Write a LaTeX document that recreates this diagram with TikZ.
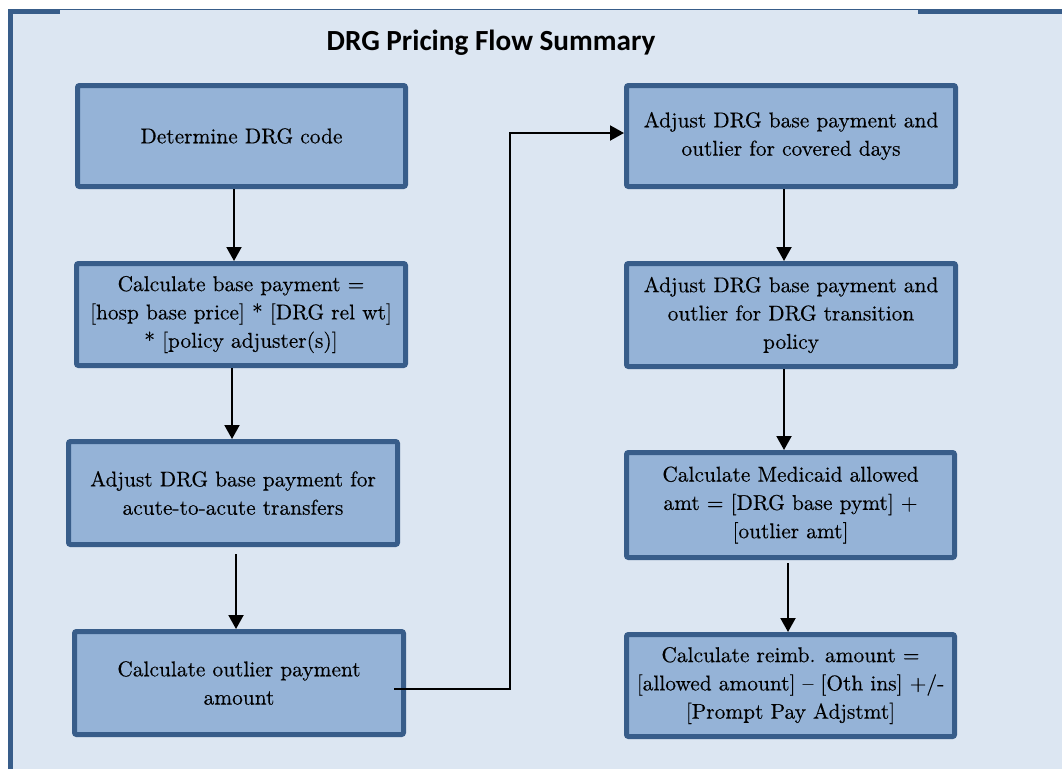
\documentclass[tikz,border=0pt]{standalone}
\usepackage{fontspec}
\newfontfamily\titlefont{Carlito}
\newfontfamily\boxfont{lmroman10-regular.otf}[FakeBold=0.3,Ligatures=TeX]
\usetikzlibrary{arrows.meta}
\definecolor{bgc}{HTML}{DCE6F2}
\definecolor{boxc}{HTML}{95B3D7}
\definecolor{bordc}{HTML}{385D8A}
\tikzset{
  stepbox/.style={draw=bordc, fill=boxc, line width=5pt, rounded corners=2pt,
    align=center, inner sep=0pt, text=black,
    font=\boxfont\fontsize{21.4}{28.3}\selectfont},
  arr/.style={draw=black, line width=2pt, -{Triangle[width=15pt,length=14pt]}},
  frameline/.style={draw=bordc, line width=5pt}
}
\begin{document}
\begin{tikzpicture}[x=1pt,y=-1pt]
\useasboundingbox (0,0) rectangle (1062,769);
\fill[bgc] (8,9) rectangle (1062,769);
\draw[bordc, line width=1pt] (60,9.5) -- (918,9.5);
\draw[frameline] (10,769) -- (10,11.5) -- (60,11.5);
\draw[frameline] (918,11.5) -- (1062,11.5);
\node[font=\titlefont\bfseries\fontsize{29.2}{34}\selectfont] (title) at (491,43) {DRG Pricing Flow Summary};

\node[stepbox, minimum width=328pt, minimum height=101pt] (b1) at (241.5,136) {Determine DRG code};
\node[stepbox, minimum width=329pt, minimum height=102pt] (b2) at (241,314.5) {Calculate base payment =\\ {[hosp base price] * [DRG rel wt]}\\ * [policy adjuster(s)]};
\node[stepbox, minimum width=329pt, minimum height=103pt] (b3) at (233,493) {Adjust DRG base payment for\\ acute-to-acute transfers};
\node[stepbox, minimum width=329pt, minimum height=103pt] (b4) at (239,683) {Calculate outlier payment\\ amount};
\node[stepbox, minimum width=329pt, minimum height=101pt] (b5) at (791,136) {Adjust DRG base payment and\\ outlier for covered days};
\node[stepbox, minimum width=329pt, minimum height=103pt] (b6) at (791,315) {Adjust DRG base payment and\\ outlier for DRG transition\\ policy};
\node[stepbox, minimum width=328pt, minimum height=105pt] (b7) at (790.5,505) {Calculate Medicaid allowed\\ amt = [DRG base pymt] +\\ {[outlier amt]}};
\node[stepbox, minimum width=328pt, minimum height=102pt] (b8) at (790.5,685.5) {Calculate reimb. amount =\\ {[allowed amount] -- [Oth ins] +/-}\\ {[Prompt Pay Adjstmt]}};

\coordinate (bend) at (510,133);

\draw[arr] ([xshift=-7.5pt]b1.south) -- ([xshift=-7pt]b2.north);
\draw[arr] ([xshift=-9pt]b2.south) -- ([xshift=-1pt]b3.north);
\draw[arr, shorten <=7pt] ([xshift=3pt]b3.south) -- ([xshift=-3pt]b4.north);
\draw[arr, shorten <=-12pt] ([yshift=-6pt]b4.east) -| (bend) -- ([yshift=3pt]b5.west);
\draw[arr] ([xshift=-7pt]b5.south) -- ([xshift=-7pt]b6.north);
\draw[arr] ([xshift=-7pt]b6.south) -- ([xshift=-6.5pt]b7.north);
\draw[arr, shorten <=3pt] ([xshift=-2.5pt]b7.south) -- ([xshift=-2.5pt]b8.north);
\end{tikzpicture}
\end{document}
